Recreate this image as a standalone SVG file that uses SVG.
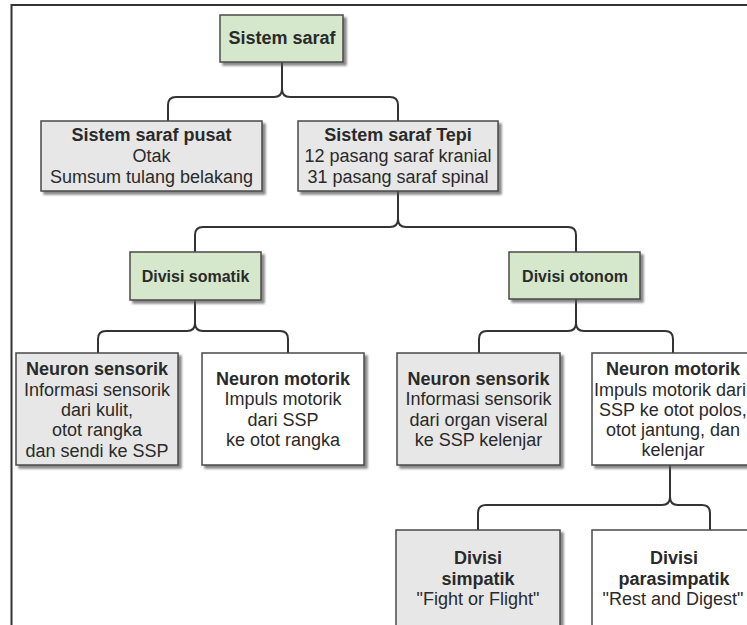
<svg xmlns="http://www.w3.org/2000/svg" width="747" height="625" viewBox="0 0 747 625">
<defs>
<filter id="sh" x="-10%" y="-10%" width="130%" height="130%">
<feDropShadow dx="3" dy="3" stdDeviation="1" flood-color="#555" flood-opacity="0.7"/>
</filter>
</defs>
<style>
.box{stroke:#4a4a4a;stroke-width:1.5;filter:url(#sh)}
.g{fill:#d5e8cc}
.gr{fill:#e7e7e7}
.w{fill:#ffffff}
text{font-family:"Liberation Sans",Arial,sans-serif;font-size:18px;fill:#2a2a2a;text-anchor:middle}
.b{font-weight:bold}
.s{font-size:16px}
.con path{fill:none;stroke:#333;stroke-width:2}
</style>
<rect width="747" height="625" fill="#fff"/>
<path d="M11.5,626 V5 H748" fill="none" stroke="#333" stroke-width="2"/>
<g class="con" id="connectors">
<path d="M282,62 V89 Q282,97 274,97 H176 Q168,97 168,105 V121 M282,89 Q282,97 290,97 H390 Q398,97 398,105 V121"/>
<path d="M398,191 V219 Q398,227 390,227 H203 Q195,227 195,235 V252 M398,219 Q398,227 406,227 H568 Q576,227 576,235 V252"/>
<path d="M195,300 V323 Q195,331 187,331 H106 Q98,331 98,339 V353 M195,323 Q195,331 203,331 H280 Q288,331 288,339 V353"/>
<path d="M576,299 V323 Q576,331 568,331 H487 Q479,331 479,339 V353 M576,323 Q576,331 584,331 H665 Q673,331 673,339 V353"/>
<path d="M670,465 V497 Q670,505 662,505 H486 Q478,505 478,513 V530 M670,497 Q670,505 678,505 H702 Q710,505 710,513 V530"/>
</g>
<g id="sistem-saraf">
<rect class="box g" x="220" y="15" width="123" height="47"/>
<text class="b" x="282" y="44">Sistem saraf</text>
</g>
<g id="ssp">
<rect class="box gr" x="41" y="121" width="221" height="70"/>
<text class="b" x="151.5" y="141">Sistem saraf pusat</text>
<text x="151.5" y="162">Otak</text>
<text x="151.5" y="183">Sumsum tulang belakang</text>
</g>
<g id="sst">
<rect class="box gr" x="298" y="121" width="200" height="70"/>
<text class="b" x="398" y="141">Sistem saraf Tepi</text>
<text x="398" y="162">12 pasang saraf kranial</text>
<text x="398" y="183">31 pasang saraf spinal</text>
</g>
<g id="divisi-somatik">
<rect class="box g" x="130" y="252" width="131" height="48"/>
<text class="b s" x="195.5" y="282">Divisi somatik</text>
</g>
<g id="divisi-otonom">
<rect class="box g" x="509" y="252" width="131" height="47"/>
<text class="b s" x="575" y="282">Divisi otonom</text>
</g>
<g id="neuron-sensorik-somatik">
<rect class="box gr" x="16" y="353" width="162" height="112"/>
<text class="b" x="97" y="375">Neuron sensorik</text>
<text x="97" y="395.5">Informasi sensorik</text>
<text x="97" y="416">dari kulit,</text>
<text x="97" y="436">otot rangka</text>
<text x="97" y="456.5">dan sendi ke SSP</text>
</g>
<g id="neuron-motorik-somatik">
<rect class="box w" x="202" y="353" width="162" height="112"/>
<text class="b" x="283" y="385">Neuron motorik</text>
<text x="283" y="405">Impuls motorik</text>
<text x="283" y="425.5">dari SSP</text>
<text x="283" y="446">ke otot rangka</text>
</g>
<g id="neuron-sensorik-otonom">
<rect class="box gr" x="397" y="353" width="163" height="112"/>
<text class="b" x="478.5" y="385">Neuron sensorik</text>
<text x="478.5" y="405">Informasi sensorik</text>
<text x="478.5" y="425.5">dari organ viseral</text>
<text x="478.5" y="446">ke SSP kelenjar</text>
</g>
<g id="neuron-motorik-otonom">
<rect class="box w" x="592" y="353" width="163" height="112"/>
<text class="b" x="673" y="375">Neuron motorik</text>
<text x="670" y="395.5">Impuls motorik dari</text>
<text x="673" y="416">SSP ke otot polos,</text>
<text x="673" y="436">otot jantung, dan</text>
<text x="673" y="456">kelenjar</text>
</g>
<g id="divisi-simpatik">
<rect class="box gr" x="396" y="530" width="164" height="100"/>
<text class="b" x="478" y="564">Divisi</text>
<text class="b" x="478" y="584.5">simpatik</text>
<text x="478" y="605">"Fight or Flight"</text>
</g>
<g id="divisi-parasimpatik">
<rect class="box w" x="592" y="530" width="163" height="100"/>
<text class="b" x="674" y="564">Divisi</text>
<text class="b" x="674" y="584.5">parasimpatik</text>
<text x="673" y="605">"Rest and Digest"</text>
</g>
</svg>
